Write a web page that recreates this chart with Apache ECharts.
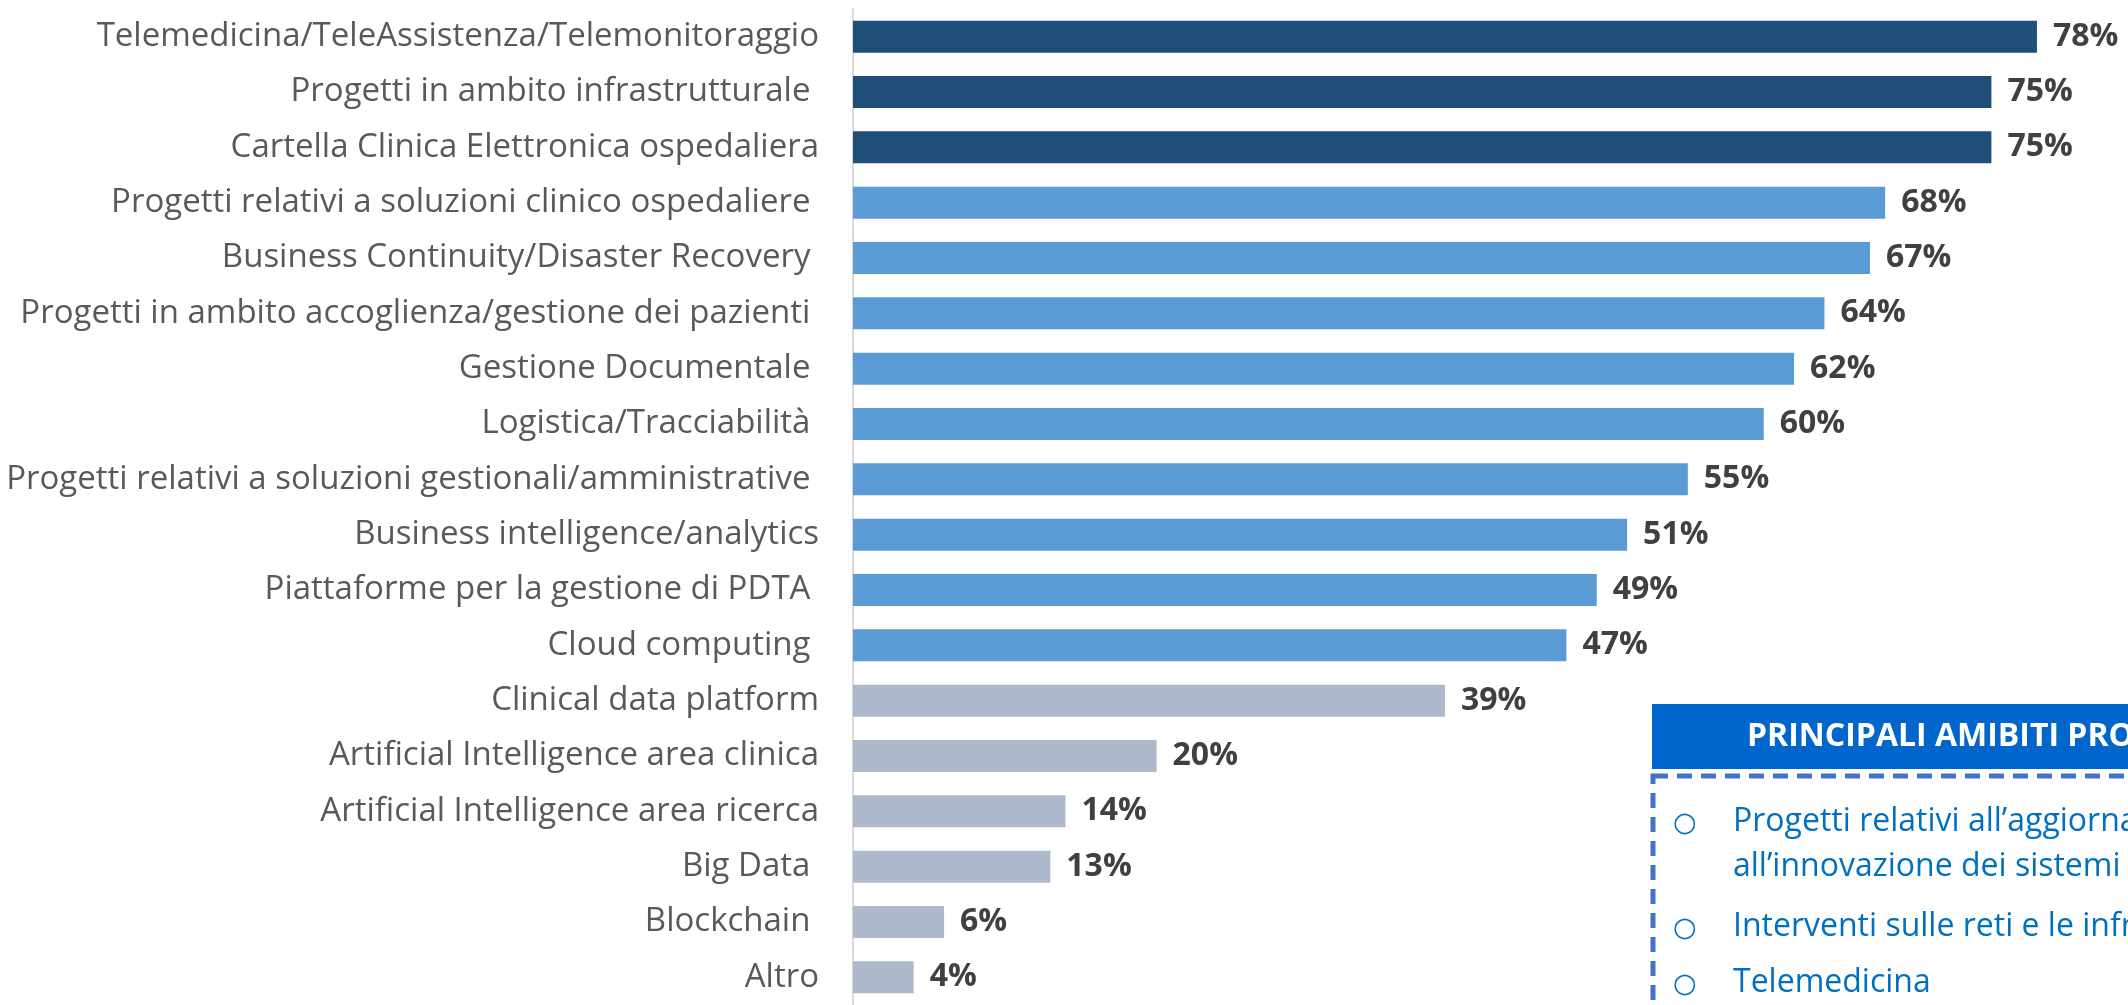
<!DOCTYPE html>
<html>
<head>
<meta charset="utf-8">
<title>Ambiti progettuali</title>
<script src="https://cdn.jsdelivr.net/npm/echarts@6/dist/echarts.min.js"></script>
<style>
  html, body { margin: 0; padding: 0; background: #fff; }
  #chart { width: 2128px; height: 1005px; }
</style>
</head>
<body>
<div id="chart"></div>
<script>
// categorie dall'alto verso il basso (alcune hanno lo spazio finale come nell'originale)
const categories = [
  'Telemedicina/TeleAssistenza/Telemonitoraggio',
  'Progetti in ambito infrastrutturale ',
  'Cartella Clinica Elettronica ospedaliera',
  'Progetti relativi a soluzioni clinico ospedaliere ',
  'Business Continuity/Disaster Recovery ',
  'Progetti in ambito accoglienza/gestione dei pazienti ',
  'Gestione Documentale ',
  'Logistica/Tracciabilità ',
  'Progetti relativi a soluzioni gestionali/amministrative ',
  'Business intelligence/analytics',
  'Piattaforme per la gestione di PDTA ',
  'Cloud computing ',
  'Clinical data platform',
  'Artificial Intelligence area clinica',
  'Artificial Intelligence area ricerca',
  'Big Data ',
  'Blockchain ',
  'Altro'
]
const values = [78, 75, 75, 68, 67, 64, 62, 60, 55, 51, 49, 47, 39, 20, 14, 13, 6, 4]

const boxTitle = 'PRINCIPALI AMIBITI PROGETTUALI'
const boxItems = [
  ['Progetti relativi all\u2019aggiornamento e', 'all\u2019innovazione dei sistemi informativi'],
  ['Interventi sulle reti e le infrastrutture'],
  ['Telemedicina']
]

function barColor(i) {
  if (i < 3) return '#1f4e79'
  if (i < 12) return '#5b9bd5'
  return '#adb9ca'
}

const chart = echarts.init(document.getElementById('chart'))

// riquadro a destra
const graphics = [
  {
    type: 'rect',
    shape: { x: 1653, y: 776, width: 600, height: 400 },
    style: { fill: 'none', stroke: '#4472c4', lineWidth: 5, lineDash: [15, 9] },
    z: 10
  },
  {
    type: 'rect',
    shape: { x: 1652, y: 704, width: 600, height: 65 },
    style: { fill: '#0066cc' },
    z: 10
  },
  {
    type: 'text',
    x: 1747,
    y: 737,
    style: {
      text: boxTitle,
      fill: '#ffffff',
      font: 'bold 32px "Open Sans"',
      verticalAlign: 'middle'
    },
    z: 11
  }
]
const lineY = [[822, 867], [927], [983]]
boxItems.forEach((lines, i) => {
  graphics.push({
    type: 'text',
    x: 1673,
    y: lineY[i][0] + 2,
    style: { text: '\u25cb', fill: '#0070c0', font: '27px "DejaVu Sans"', verticalAlign: 'middle' },
    z: 11
  })
  lines.forEach((t, j) => {
    graphics.push({
      type: 'text',
      x: 1733,
      y: lineY[i][j],
      style: { text: t, fill: '#0070c0', font: '32px "Open Sans"', verticalAlign: 'middle' },
      z: 11
    })
  })
})

const option = {
  animation: false,
  backgroundColor: '#ffffff',
  grid: {
    left: 853,
    top: 9,
    width: 1279,
    height: 1005
  },
  xAxis: {
    type: 'value',
    min: 0,
    max: 84,
    show: false
  },
  yAxis: {
    type: 'category',
    inverse: true,
    data: categories,
    axisTick: { show: false },
    axisLine: { show: true, lineStyle: { color: '#d9d9d9', width: 2 } },
    axisLabel: {
      margin: 34,
      color: '#595959',
      fontSize: 33,
      fontFamily: 'Open Sans'
    }
  },
  series: [
    {
      type: 'bar',
      barWidth: 32,
      data: values.map((v, i) => ({ value: v, itemStyle: { color: barColor(i) } })),
      label: {
        show: true,
        position: 'right',
        distance: 16,
        formatter: '{c}%',
        color: '#404040',
        fontSize: 32,
        fontWeight: 'bold',
        fontFamily: 'Open Sans'
      }
    }
  ],
  graphic: graphics
}

chart.setOption(option)
</script>
</body>
</html>
